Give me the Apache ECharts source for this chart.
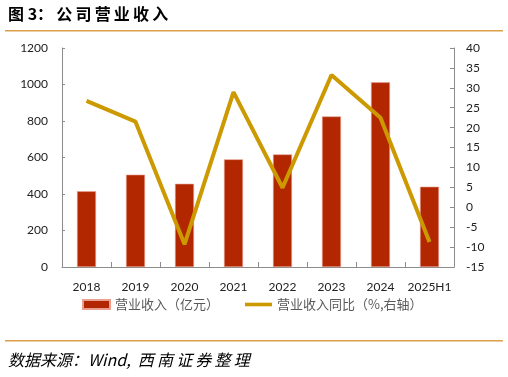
<!DOCTYPE html>
<html>
<head>
<meta charset="utf-8">
<script src="https://cdn.jsdelivr.net/npm/echarts@6/dist/echarts.min.js"></script>
<style>
  html, body { margin: 0; padding: 0; background: #fff; }
  #main { width: 508px; height: 377px; }
</style>
</head>
<body>
<div id="main"></div>
<script>
// data
var years = ['2018', '2019', '2020', '2021', '2022', '2023', '2024', '2025H1'];
var revenue = [415, 506, 456, 590, 617, 825, 1012, 440];      // 亿元
var revenueYoy = [26.7, 21.5, -9.3, 28.9, 4.9, 33.2, 22.5, -8.7]; // %

var numFont = 'Lato, "Noto Sans", sans-serif';
var cnFont = '"Noto Sans CJK SC", sans-serif';

var myChart = echarts.init(document.getElementById('main'));

var option = {
    animation: false,
    backgroundColor: '#fff',
    grid: {
        left: 62,
        right: 54,
        top: 48,
        bottom: 110
    },
    graphic: [
        {
            type: 'text',
            left: 8,
            top: 6,
            style: {
                text: '图 3：\u2009公\u2009司\u2009营\u2009业\u2009收\u2009入',
                font: 'bold 16px "Noto Sans CJK SC", sans-serif',
                fill: '#000'
            }
        },
        {
            type: 'rect',
            shape: { x: 5, y: 30, width: 498, height: 1.5 },
            style: { fill: '#DDA04A' }
        },
        {
            type: 'rect',
            shape: { x: 5, y: 340, width: 498, height: 1.5 },
            style: { fill: '#DDA04A' }
        },
        {
            type: 'text',
            left: 8,
            top: 352,
            style: {
                text: '数据来源：Wind,  西\u2009南\u2009证\u2009券\u2009整\u2009理',
                font: 'italic 16px "Noto Sans CJK SC", sans-serif',
                fill: '#000'
            }
        }
    ],
    legend: {
        left: 77,
        top: 293,
        itemGap: 26,
        itemWidth: 27,
        itemHeight: 9,
        symbolKeepAspect: true,
        textStyle: {
            fontFamily: cnFont,
            fontSize: 13,
            color: '#595959'
        },
        data: [
            { name: '营业收入（亿元）', icon: 'rect' },
            { name: '营业收入同比（%,右轴）', icon: 'path://M0,0L30,0L30,4L0,4Z' }
        ]
    },
    xAxis: {
        type: 'category',
        data: years,
        axisLine: { lineStyle: { color: '#8c8c8c', width: 1 } },
        axisTick: { show: true, inside: true, length: 5, lineStyle: { color: '#8c8c8c' } },
        axisLabel: {
            interval: 0,
            fontFamily: numFont,
            fontSize: 12,
            color: '#222',
            margin: 14
        }
    },
    yAxis: [
        {
            type: 'value',
            min: 0,
            max: 1200,
            interval: 200,
            splitLine: { show: false },
            axisLine: { show: true, lineStyle: { color: '#8c8c8c' } },
            axisTick: { show: true, inside: true, length: 3, lineStyle: { color: '#8c8c8c' } },
            axisLabel: {
                fontFamily: numFont,
                fontSize: 12,
                color: '#222',
                margin: 14,
                formatter: function (v) { return String(v); }
            }
        },
        {
            type: 'value',
            min: -15,
            max: 40,
            interval: 5,
            splitLine: { show: false },
            axisLine: { show: true, lineStyle: { color: '#8c8c8c' } },
            axisTick: { show: true, inside: true, length: 4, lineStyle: { color: '#8c8c8c' } },
            axisLabel: {
                fontFamily: numFont,
                fontSize: 12,
                color: '#222',
                margin: 12
            }
        }
    ],
    series: [
        {
            name: '营业收入（亿元）',
            type: 'bar',
            data: revenue,
            barWidth: 19,
            itemStyle: {
                color: '#B22600',
                borderColor: '#E8A090',
                borderWidth: 0.6
            }
        },
        {
            name: '营业收入同比（%,右轴）',
            type: 'line',
            yAxisIndex: 1,
            data: revenueYoy,
            symbol: 'none',
            lineStyle: { color: '#CC9900', width: 4 },
            itemStyle: { color: '#CC9900' }
        }
    ]
};

myChart.setOption(option);
</script>
</body>
</html>
